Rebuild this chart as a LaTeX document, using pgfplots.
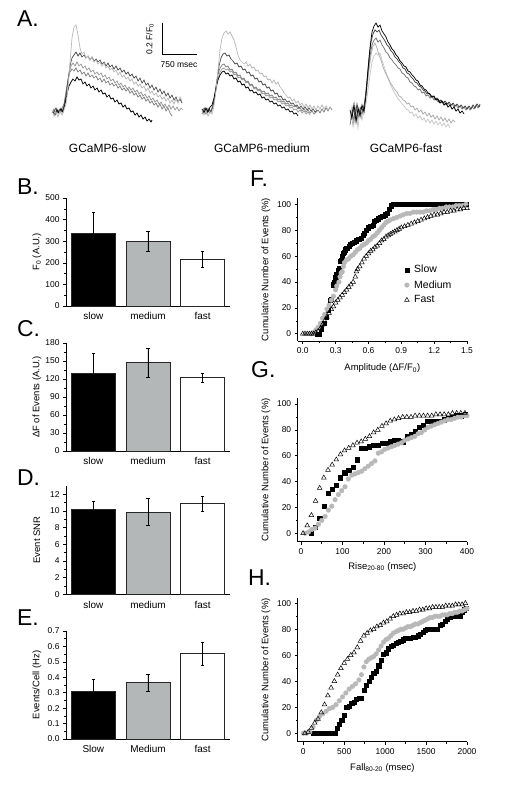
\documentclass[border=0pt]{standalone}
\usepackage{fontspec}
\setmainfont{Liberation Sans}
\usepackage{pgfplots}
\pgfplotsset{compat=1.18}
\definecolor{medgray}{HTML}{B4B7B7}
\definecolor{dotgray}{HTML}{B8B8B8}
\pgfplotsset{
  base/.style={scale only axis, axis lines*=left, tick align=outside,
    major tick length=3bp, minor tick length=1.8bp,
    axis line style={line width=0.9bp, black},
    every tick/.style={line width=0.6bp, black},
    tick label style={font=\fontsize{8.5}{10}\selectfont},
    /pgf/number format/assume math mode=true,
    /pgf/number format/1000 sep={},
    label style={font=\fontsize{9.5}{11}\selectfont},
    clip=false},
  barax/.style={base, width=164bp, height=108bp, xmin=0.5, xmax=3.5, ymin=0,
    xtick={1,2,3}, x tick style={draw=none}, minor y tick num=1,
    xticklabel style={font=\fontsize{10}{12}\selectfont},
    ybar, bar width=44bp, bar shift=0pt,
    ylabel style={at={(axis description cs:-0.177,0.5)}, anchor=center},
    error bars/y dir=both, error bars/y explicit,
    error bars/error bar style={line width=0.6bp, black},
    error bars/error mark options={rotate=90, mark size=1.6bp, line width=0.6bp, black}},
  cumax/.style={base, width=169.3bp, minor x tick num=1, minor y tick num=1,
    ytick={0,20,40,60,80,100},
    ylabel={Cumulative Number of Events (\%)},
    ylabel style={at={(axis description cs:-0.187,0.5)}, anchor=center}},
  slowm/.style={only marks, mark=square*, mark size=2.1bp, mark options={fill=black, draw=black, line width=0.3bp}},
  medm/.style={only marks, mark=*, mark size=2.3bp, mark options={fill=dotgray, draw=dotgray}},
  fastm/.style={only marks, mark=triangle, mark size=2.7bp, mark options={draw=black, fill=white, line width=0.5bp}},
}
\begin{document}
\begin{tikzpicture}
\useasboundingbox (0,0) rectangle (512bp,-794bp);
\fill[white] (0,0) rectangle (512bp,-794bp);
% panel letters
\foreach \t/\x/\y in {A/17/26, B/17/194, C/17/336, D/17/485, E/17/625, F/250/186, G/251/377, H/248/585}
  \node[anchor=base west, inner sep=0pt, font=\fontsize{23}{25}\selectfont] at (\x bp,-\y bp) {\t.};
% ---------------- Panel A traces ----------------
\begin{axis}[scale only axis, width=512bp, height=180bp, at={(0,0)}, anchor=north west,
  xmin=0, xmax=512, ymin=0, ymax=180, y dir=reverse, hide axis, clip=false]
% slow group
\addplot[no marks, color=black!40, line width=0.7bp] coordinates {(53,111) (55,114) (57,109) (59,112) (61,108) (63,110) (65,100) (67,86) (69,74) (71,66) (73,63) (75,66) (77,62) (79,66) (81,64) (83,68) (85,66) (87,70) (89,68) (91,72) (93,70) (95,74) (97,72) (99,75) (101,73) (103,77) (105,75) (107,79) (109,77) (111,81) (113,79) (115,83) (117,81) (119,85) (121,83) (123,87) (125,85) (127,89) (129,87) (131,90) (133,88) (135,92) (137,90) (139,94) (141,92) (143,96) (145,94) (147,98) (149,96) (151,100) (153,98) (155,102) (157,100) (159,104) (161,102) (163,106) (165,104) (167,108) (169,105) (171,109) (173,106) (175,110) (177,107) (179,111) (181,108) (183,110)};
\addplot[no marks, color=black!50, line width=0.7bp] coordinates {(52,113) (54,109) (56,114) (58,110) (60,113) (62,108) (64,104) (66,92) (68,80) (70,72) (72,69) (74,71) (76,68) (78,72) (80,70) (82,74) (84,72) (86,76) (88,73) (90,77) (92,75) (94,78) (96,76) (98,80) (100,78) (102,82) (104,79) (106,83) (108,81) (110,85) (112,83) (114,86) (116,84) (118,88) (120,86) (122,90) (124,88) (126,91) (128,89) (130,93) (132,91) (134,95) (136,93) (138,97) (140,95) (142,99) (144,97) (146,101) (148,99) (150,103) (152,101) (154,105) (156,103) (158,107) (160,104) (162,109) (164,106) (166,111) (168,108) (170,113) (172,116)};
\addplot[no marks, color=black!70, line width=0.7bp] coordinates {(54,112) (56,108) (58,113) (60,109) (62,112) (64,106) (66,96) (68,80) (70,66) (72,58) (74,55) (76,52) (78,56) (80,53) (82,57) (84,55) (86,58) (88,56) (90,60) (92,57) (94,61) (96,59) (98,62) (100,60) (102,64) (104,62) (106,66) (108,63) (110,67) (112,65) (114,69) (116,66) (118,70) (120,68) (122,72) (124,70) (126,74) (128,72) (130,76) (132,74) (134,78) (136,76) (138,81) (140,78) (142,83) (144,80) (146,85) (148,83) (150,88) (152,85) (154,90) (156,87) (158,92) (160,89) (162,94) (164,91) (166,96) (168,93) (170,98) (172,95) (174,100) (176,97) (178,102) (180,99) (182,103)};
\addplot[no marks, color=black, line width=0.7bp] coordinates {(53,112) (55,115) (57,110) (59,113) (61,109) (63,112) (65,104) (67,94) (69,86) (71,82) (73,79) (75,81) (77,77) (79,80) (81,79) (83,84) (85,82) (87,86) (89,84) (91,88) (93,86) (95,90) (97,88) (99,92) (101,90) (103,94) (105,93) (107,97) (109,95) (111,99) (113,98) (115,102) (117,100) (119,104) (121,103) (123,107) (125,105) (127,109) (129,108) (131,112) (133,111) (135,115) (137,113) (139,117) (141,115) (143,119) (145,117) (147,121) (149,119) (151,122) (152,120)};
\addplot[no marks, color=black!28, line width=0.7bp] coordinates {(52,110) (54,116) (56,112) (58,117) (60,111) (62,115) (64,110) (66,104) (68,88) (70,62) (72,38) (74,27) (76,25) (78,35) (80,48) (82,54) (84,52) (86,58) (88,56) (90,60) (92,57) (94,62) (96,60) (98,64) (100,62) (102,66) (104,63) (106,68) (108,66) (110,70) (112,68) (114,72) (116,70) (118,75) (120,72) (122,77) (124,75) (126,79) (128,77) (130,81) (132,79) (134,84) (136,82) (138,86) (140,84) (142,88) (144,86) (146,91) (148,88) (150,93) (152,91) (154,95) (156,93) (158,97) (160,95) (162,99) (164,97) (166,101) (168,98) (170,103) (172,100) (174,104) (176,99) (178,103) (180,97) (182,101)};
% medium group
\addplot[no marks, color=black!40, line width=0.7bp] coordinates {(202,112) (204,108) (206,112) (208,108) (210,111) (212,108) (214,102) (216,90) (218,79) (220,72) (222,69) (224,68) (226,70) (228,69) (230,72) (232,71) (234,75) (236,74) (238,78) (240,77) (242,80) (244,79) (246,83) (248,82) (250,86) (252,85) (254,89) (256,88) (258,91) (260,90) (262,94) (264,93) (266,96) (268,95) (270,98) (272,97) (274,100) (276,99) (278,102) (280,101) (282,104) (284,103) (286,106) (288,105) (290,108) (292,107) (294,110) (296,109) (298,112) (300,110) (302,113) (304,111) (306,114) (308,112) (310,115)};
\addplot[no marks, color=black!50, line width=0.7bp] coordinates {(202,114) (204,110) (206,114) (208,110) (210,113) (212,109) (214,100) (216,86) (218,74) (220,68) (222,65) (224,64) (226,67) (228,66) (230,70) (232,69) (234,73) (236,72) (238,76) (240,75) (242,79) (244,78) (246,82) (248,81) (250,85) (252,84) (254,88) (256,87) (258,90) (260,89) (262,92) (264,91) (266,94) (268,93) (270,96) (272,95) (274,98) (276,97) (278,100) (280,99) (282,102) (284,101) (286,104) (288,103) (290,106) (292,105) (294,107) (296,106) (298,109) (300,108) (302,111) (304,109) (306,112) (308,110) (310,113) (312,111) (314,114) (316,112) (318,110) (320,113) (322,109) (324,112) (326,108) (328,111) (330,107) (332,110)};
\addplot[no marks, color=black!70, line width=0.7bp] coordinates {(203,112) (205,108) (207,113) (209,109) (211,112) (213,106) (215,95) (217,80) (219,66) (221,58) (223,54) (225,53) (227,56) (229,55) (231,59) (233,61) (235,64) (237,63) (239,67) (241,66) (243,70) (245,69) (247,73) (249,72) (251,76) (253,75) (255,79) (257,78) (259,82) (261,81) (263,85) (265,84) (267,88) (269,87) (271,91) (273,90) (275,94) (277,93) (279,97) (281,96) (283,100) (285,99) (287,102) (289,101) (291,104) (293,103) (295,106) (297,105) (299,108) (301,106) (303,109) (305,107) (307,110) (309,108) (311,111) (313,109) (315,112) (317,110)};
\addplot[no marks, color=black, line width=0.7bp] coordinates {(202,109) (204,113) (206,108) (208,112) (210,107) (212,105) (214,98) (216,88) (218,80) (220,75) (222,72) (224,71) (226,74) (228,73) (230,76) (232,75) (234,79) (236,78) (238,82) (240,81) (242,85) (244,84) (246,88) (248,87) (250,91) (252,90) (254,93) (256,92) (258,95) (260,94) (262,98) (264,97) (266,100) (268,99) (270,102) (272,101) (274,104) (276,103) (278,106) (280,105) (282,108) (284,107) (286,110) (288,109) (290,112) (292,111) (294,114) (296,113) (298,116)};
\addplot[no marks, color=black!28, line width=0.7bp] coordinates {(202,110) (204,115) (206,111) (208,116) (210,112) (212,114) (214,106) (216,90) (218,70) (220,50) (222,38) (224,33) (226,31) (228,34) (230,32) (232,36) (234,40) (236,47) (238,55) (240,60) (242,62) (244,64) (246,62) (248,66) (250,64) (252,68) (254,67) (256,71) (258,70) (260,74) (262,73) (264,77) (266,76) (268,80) (270,79) (272,83) (274,80) (276,84) (278,82) (280,87) (282,89) (284,93) (286,95) (288,98) (290,97) (292,101) (294,99) (296,103) (298,101) (300,105) (302,103) (304,107) (306,104) (308,108) (310,105) (312,109) (314,106) (316,110) (318,106) (320,109) (322,105) (324,109) (326,106) (328,110) (330,107) (332,109)};
% fast group
\addplot[no marks, color=black!22, line width=0.7bp] coordinates {(350,118) (352,106) (354,124) (356,112) (358,128) (360,110) (362,120) (364,112) (366,104) (368,90) (370,75) (372,62) (374,56) (376,53) (378,55) (380,53) (382,60) (384,66) (386,72) (388,78) (390,83) (392,88) (394,92) (396,95) (398,99) (400,101) (402,104) (404,106) (406,109) (408,110) (410,113) (412,112) (414,116) (416,114) (418,118) (420,116) (422,120) (424,118) (426,122) (428,119) (430,123) (432,120) (434,124) (436,121) (438,125) (440,122) (442,126) (444,123) (446,127) (448,124) (450,128)};
\addplot[no marks, color=black!33, line width=0.7bp] coordinates {(351,112) (353,126) (355,110) (357,122) (359,108) (361,118) (363,109) (365,104) (367,88) (369,70) (371,55) (373,46) (375,43) (377,48) (379,55) (381,60) (383,67) (385,72) (387,76) (389,80) (391,84) (393,87) (395,90) (397,92) (399,96) (401,97) (403,100) (405,101) (407,104) (409,103) (411,107) (413,106) (415,110) (417,108) (419,112) (421,110) (423,114) (425,112) (427,116) (429,113) (431,117) (433,115) (435,119) (437,116) (439,120) (441,117) (443,121) (445,118) (447,122) (449,119) (451,123) (453,120) (455,122)};
\addplot[no marks, color=black!55, line width=0.7bp] coordinates {(350,125) (352,112) (354,120) (356,107) (358,118) (360,110) (362,114) (364,106) (366,92) (368,74) (370,56) (372,45) (374,40) (376,38) (378,42) (380,40) (382,45) (384,48) (386,52) (388,54) (390,58) (392,60) (394,63) (396,65) (398,68) (400,69) (402,73) (404,74) (406,77) (408,78) (410,82) (412,83) (414,86) (416,87) (418,90) (420,89) (422,93) (424,92) (426,96) (428,95) (430,98) (432,97) (434,100) (436,99) (438,102) (440,100) (442,103) (444,102) (446,105) (448,103) (450,106) (452,104) (454,107) (456,105) (458,108) (460,106) (462,109) (464,107) (466,110) (468,107) (470,110) (472,107) (474,109) (476,105) (478,108) (480,104)};
\addplot[no marks, color=black!75, line width=0.7bp] coordinates {(351,120) (353,108) (355,116) (357,104) (359,113) (361,107) (363,111) (365,100) (367,80) (369,58) (371,42) (373,34) (375,30) (377,32) (379,30) (381,35) (383,38) (385,41) (387,45) (389,47) (391,51) (393,53) (395,57) (397,59) (399,62) (401,64) (403,68) (405,69) (407,73) (409,74) (411,77) (413,79) (415,82) (417,83) (419,86) (421,87) (423,90) (425,91) (427,94) (429,93) (431,97) (433,96) (435,99) (437,98) (439,102) (441,100) (443,103) (445,101) (447,104) (449,102) (451,105) (453,103) (455,106) (457,104) (459,107) (461,105) (463,108) (465,106) (467,109) (469,106) (471,109) (473,105) (475,108) (477,104) (479,107) (480,105)};
\addplot[no marks, color=black, line width=0.7bp] coordinates {(350,110) (352,118) (354,104) (356,122) (358,108) (360,116) (362,105) (364,112) (366,95) (368,70) (370,48) (372,32) (374,26) (376,23) (378,27) (380,25) (382,31) (384,34) (386,37) (388,42) (390,45) (392,49) (394,51) (396,55) (398,57) (400,61) (402,63) (404,66) (406,67) (408,71) (410,72) (412,75) (414,77) (416,80) (418,81) (420,85) (422,86) (424,89) (426,90) (428,93) (430,94) (432,97) (434,96) (436,100) (438,99) (440,103) (442,101) (444,105) (446,103) (448,107) (450,105) (452,109) (454,107) (456,111) (458,109) (460,113) (462,111) (464,114)};
% scale bar
\addplot[no marks, black, line width=1.3bp] coordinates {(162.7,22.7) (162.7,54.3) (196.7,54.3)};
\node[rotate=90, font=\fontsize{8.5}{10}\selectfont] at (axis cs:150,39) {0.2 F/F\textsubscript{0}};
\node[font=\fontsize{8.5}{10}\selectfont] at (axis cs:179,64.5) {750 msec};
\node[font=\fontsize{12}{14}\selectfont] at (axis cs:107.5,148) {GCaMP6-slow};
\node[font=\fontsize{12}{14}\selectfont] at (axis cs:262,148) {GCaMP6-medium};
\node[font=\fontsize{12}{14}\selectfont] at (axis cs:406,148) {GCaMP6-fast};
\end{axis}
% ---------------- Panel B ----------------
\begin{axis}[barax, at={(66bp,-306bp)}, anchor=south west, ymax=500,
  ytick={0,100,200,300,400,500}, xticklabels={slow,medium,fast},
  ylabel={F\textsubscript{0} (A.U.)}]
\addplot[fill=black, draw=black!85, line width=0.8bp] coordinates {(1,338) +- (0,95)};
\addplot[fill=medgray, draw=black!85, line width=0.8bp] coordinates {(2,300) +- (0,48)};
\addplot[fill=white, draw=black!85, line width=0.8bp] coordinates {(3,217) +- (0,37)};
\end{axis}
% ---------------- Panel C ----------------
\begin{axis}[barax, at={(66bp,-451bp)}, anchor=south west, ymax=180,
  ytick={0,30,60,90,120,150,180}, xticklabels={slow,medium,fast},
  ylabel={ΔF of Events (A.U.)}]
\addplot[fill=black, draw=black!85, line width=0.8bp] coordinates {(1,129) +- (0,34)};
\addplot[fill=medgray, draw=black!85, line width=0.8bp] coordinates {(2,147) +- (0,24)};
\addplot[fill=white, draw=black!85, line width=0.8bp] coordinates {(3,122) +- (0,8)};
\end{axis}
% ---------------- Panel D ----------------
\begin{axis}[barax, at={(66bp,-594.3bp)}, anchor=south west, height=108.3bp, ymax=13,
  ytick={0,2,4,6,8,10,12}, xticklabels={slow,medium,fast},
  ylabel={Event SNR}]
\addplot[fill=black, draw=black!85, line width=0.8bp] coordinates {(1,10.17) +- (0,1.0)};
\addplot[fill=medgray, draw=black!85, line width=0.8bp] coordinates {(2,9.88) +- (0,1.6)};
\addplot[fill=white, draw=black!85, line width=0.8bp] coordinates {(3,10.9) +- (0,0.92)};
\end{axis}
% ---------------- Panel E ----------------
\begin{axis}[barax, at={(66bp,-739bp)}, anchor=south west, ymax=0.7,
  ytick={0,0.1,0.2,0.3,0.4,0.5,0.6,0.7}, xticklabels={Slow,Medium,fast},
  yticklabel style={/pgf/number format/.cd, fixed, fixed zerofill, precision=1},
  ylabel={Events/Cell (Hz)}]
\addplot[fill=black, draw=black!85, line width=0.8bp] coordinates {(1,0.307) +- (0,0.08)};
\addplot[fill=medgray, draw=black!85, line width=0.8bp] coordinates {(2,0.367) +- (0,0.055)};
\addplot[fill=white, draw=black!85, line width=0.8bp] coordinates {(3,0.552) +- (0,0.077)};
\end{axis}
% ---------------- Panel F ----------------
\begin{axis}[cumax, at={(297.7bp,-341bp)}, anchor=south west, height=143bp,
  xmin=-0.0465, xmax=1.5, ymin=-5.6, ymax=104.9,
  xtick={0,0.3,0.6,0.9,1.2,1.5},
  xticklabel style={/pgf/number format/.cd, fixed, fixed zerofill, precision=1},
  xlabel={Amplitude (ΔF/F\textsubscript{0})},
  xlabel style={at={(axis description cs:0.5,-0.19)}, anchor=center},
  legend style={draw=none, fill=none, at={(0.63,0.545)}, anchor=north west,
    font=\fontsize{10.5}{12}\selectfont, row sep=2.2bp, column sep=3bp, inner sep=0pt},
  legend cell align=left]
\addplot[slowm] coordinates {(0.13,0) (0.15,0) (0.17,4) (0.19,8) (0.21,13) (0.23,18) (0.25,26) (0.26,27) (0.28,38) (0.29,40) (0.30,44) (0.31,46) (0.32,49) (0.33,51) (0.34,56) (0.35,57) (0.36,60) (0.37,62) (0.38,63) (0.39,65) (0.40,66) (0.42,68) (0.43,69) (0.45,70) (0.47,71) (0.49,72) (0.51,73) (0.53,74) (0.55,76) (0.56,78) (0.58,80) (0.60,82) (0.62,83) (0.64,84) (0.65,87) (0.67,88) (0.69,89) (0.71,90) (0.73,91) (0.75,92) (0.77,93) (0.79,96) (0.81,99) (0.83,100) (0.85,100) (0.87,100) (0.89,100) (0.91,100) (0.93,100) (0.95,100) (0.97,100) (0.99,100) (1.01,100) (1.03,100) (1.05,100) (1.07,100) (1.09,100) (1.11,100) (1.13,100) (1.15,100) (1.17,100) (1.19,100) (1.21,100) (1.23,100) (1.25,100) (1.27,100) (1.29,100) (1.31,100) (1.33,100) (1.35,100) (1.37,100) (1.39,100) (1.41,100) (1.43,100) (1.45,100) (1.47,100) (1.49,100)};
\addlegendentry{Slow}
\addplot[medm] coordinates {(0.08,0) (0.10,1) (0.12,3) (0.14,5) (0.16,8) (0.18,12) (0.20,15) (0.22,19) (0.24,22) (0.26,26) (0.28,29) (0.30,34) (0.31,37) (0.33,40) (0.34,44) (0.35,47) (0.36,48) (0.37,52) (0.38,55) (0.40,57) (0.42,58) (0.44,60) (0.46,61) (0.48,63) (0.50,65) (0.52,66) (0.54,68) (0.56,69) (0.58,70) (0.60,72) (0.62,73) (0.64,75) (0.66,76) (0.68,78) (0.70,80) (0.72,82) (0.74,84) (0.76,86) (0.78,87) (0.80,88) (0.83,89) (0.86,90) (0.89,91) (0.92,92) (0.95,93) (0.98,93) (1.01,94) (1.04,94) (1.07,94) (1.10,94) (1.13,95) (1.16,95) (1.19,96) (1.22,96) (1.25,97) (1.28,97) (1.31,98) (1.34,98) (1.37,98) (1.40,99) (1.43,99) (1.46,99) (1.49,100)};
\addlegendentry{Medium}
\addplot[fastm] coordinates {(0.00,0) (0.02,0) (0.04,0) (0.06,0) (0.08,0) (0.10,0) (0.12,1) (0.14,2) (0.16,4) (0.18,7) (0.20,10) (0.22,13) (0.24,16) (0.26,19) (0.28,21) (0.30,24) (0.32,26) (0.34,28) (0.36,30) (0.38,32) (0.40,34) (0.42,36) (0.44,38) (0.46,40) (0.48,44) (0.49,48) (0.50,50) (0.52,52) (0.54,55) (0.56,58) (0.58,60) (0.60,62) (0.62,64) (0.64,65) (0.66,67) (0.68,68) (0.70,70) (0.72,72) (0.74,73) (0.76,75) (0.78,76) (0.80,77) (0.82,78) (0.84,79) (0.86,80) (0.88,81) (0.90,82) (0.93,83) (0.96,84) (0.99,85) (1.02,86) (1.05,87) (1.08,88) (1.11,89) (1.14,90) (1.17,91) (1.20,92) (1.23,92) (1.26,93) (1.29,94) (1.32,94) (1.35,95) (1.38,95) (1.41,96) (1.44,96) (1.47,97) (1.50,97)};
\addlegendentry{Fast}
\end{axis}
% ---------------- Panel G ----------------
\begin{axis}[cumax, at={(297.7bp,-541.7bp)}, anchor=south west, height=143.7bp,
  xmin=-8, xmax=400, ymin=-6.5, ymax=104.7,
  xtick={0,100,200,300,400},
  xlabel={Rise\textsubscript{20-80} (msec)},
  xlabel style={at={(axis description cs:0.5,-0.175)}, anchor=center}]
\addplot[slowm] coordinates {(25,0) (35,5) (45,12) (55,21) (65,31) (75,34) (85,37) (95,43) (105,47) (115,49) (125,51) (135,57) (145,66) (155,66) (165,67) (175,68) (185,68) (195,70) (205,70) (215,71) (225,72) (235,72) (245,71) (255,75) (265,77) (275,79) (285,82) (295,84) (305,87) (315,87) (325,87) (335,87) (345,88) (355,89) (365,90) (375,91) (385,91) (395,92)};
\addplot[medm] coordinates {(10,0) (18,1) (26,3) (34,4) (42,7) (50,10) (58,13) (66,18) (74,21) (82,26) (90,30) (98,33) (106,36) (114,42) (122,45) (130,46) (138,47) (146,48) (154,50) (162,52) (170,54) (178,56) (186,62) (194,63) (202,65) (210,66) (218,67) (226,68) (234,69) (242,70) (250,72) (258,73) (266,74) (274,75) (282,77) (290,78) (298,80) (306,82) (314,83) (322,84) (330,85) (338,86) (346,87) (354,88) (362,88) (370,89) (378,90) (386,90) (394,91) (400,91)};
\addplot[fastm] coordinates {(5,0) (15,6) (25,14) (35,25) (45,35) (55,43) (65,49) (75,53) (85,57) (95,61) (105,64) (115,66) (125,68) (135,70) (145,71) (155,73) (165,75) (175,78) (185,80) (195,83) (205,85) (215,87) (225,88) (235,89) (245,90) (255,90) (265,90) (275,91) (285,91) (295,91) (305,91) (315,91) (325,92) (335,92) (345,92) (355,92) (365,93) (375,93) (385,93) (395,93)};
\end{axis}
% ---------------- Panel H ----------------
\begin{axis}[cumax, at={(297.7bp,-741.7bp)}, anchor=south west, height=143.7bp,
  xmin=-68, xmax=2000, ymin=-6.5, ymax=104,
  xtick={0,500,1000,1500,2000},
  xlabel={Fall\textsubscript{80-20} (msec)},
  xlabel style={at={(axis description cs:0.5,-0.183)}, anchor=center}]
\addplot[slowm] coordinates {(120,0) (160,0) (200,0) (240,0) (280,0) (320,0) (360,0) (390,0) (410,4) (440,7) (470,10) (500,14) (530,20) (560,21) (590,23) (620,24) (650,26) (680,27) (710,27) (740,33) (770,37) (800,40) (830,43) (860,46) (890,48) (920,52) (950,56) (980,61) (1010,62) (1040,65) (1070,67) (1100,68) (1130,69) (1160,70) (1190,71) (1220,72) (1250,73) (1280,73) (1310,73) (1340,74) (1370,74) (1400,75) (1430,76) (1460,78) (1490,79) (1520,80) (1550,80) (1580,80) (1610,80) (1640,80) (1670,83) (1700,84) (1730,86) (1760,88) (1790,89) (1820,90) (1850,90) (1880,90) (1910,90) (1940,93) (1970,95) (1990,96)};
\addplot[medm] coordinates {(0,0) (40,0) (80,1) (120,5) (160,10) (200,13) (240,15) (280,17) (320,19) (360,20) (400,22) (440,25) (480,28) (520,31) (560,34) (600,36) (640,38) (680,41) (710,45) (740,51) (770,55) (800,57) (830,58) (860,59) (890,61) (920,64) (950,67) (980,70) (1010,72) (1040,73) (1070,75) (1100,77) (1130,78) (1160,79) (1190,80) (1220,80) (1250,81) (1280,82) (1310,82) (1340,83) (1370,84) (1400,84) (1430,85) (1460,86) (1490,87) (1520,88) (1550,89) (1580,89) (1610,90) (1640,90) (1670,90) (1700,91) (1730,91) (1760,91) (1790,92) (1820,92) (1850,93) (1880,93) (1910,94) (1940,94) (1970,95) (2000,96)};
\addplot[fastm] coordinates {(20,0) (60,1) (100,4) (140,8) (180,11) (220,16) (260,22) (300,29) (340,35) (380,40) (420,45) (460,50) (500,54) (540,57) (580,60) (620,62) (660,66) (700,71) (740,75) (780,77) (820,79) (860,80) (900,82) (940,83) (980,85) (1020,86) (1060,88) (1100,90) (1140,91) (1180,92) (1220,92) (1260,93) (1300,93) (1340,94) (1380,94) (1420,95) (1460,95) (1500,96) (1540,96) (1580,97) (1620,97) (1660,97) (1700,97) (1740,98) (1780,98) (1820,98) (1860,99) (1900,99) (1940,99) (1980,100)};
\end{axis}
\end{tikzpicture}
\end{document}
